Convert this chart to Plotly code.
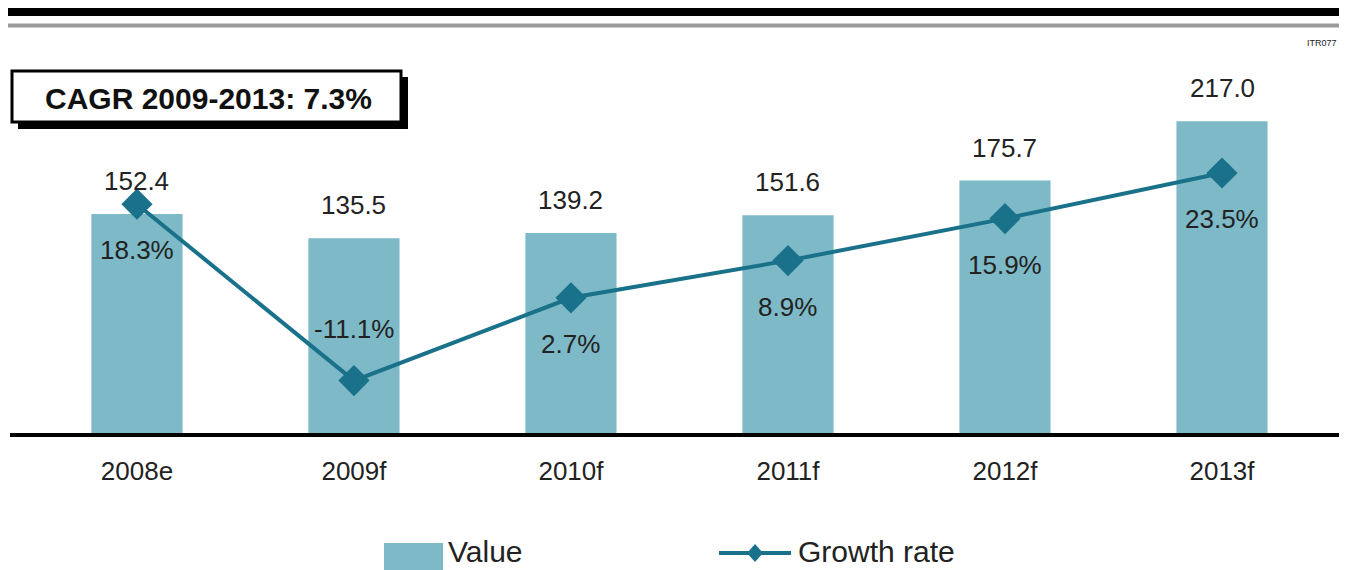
import plotly.graph_objects as go

# the page adds an 8px body margin, so the figure is shrunk by that much
OFF = 8
W, H = 1347 - OFF, 570 - OFF

categories = ["2008e", "2009f", "2010f", "2011f", "2012f", "2013f"]
values = [152.4, 135.5, 139.2, 151.6, 175.7, 217.0]
growth = [18.3, -11.1, 2.7, 8.9, 15.9, 23.5]

bar_color = "#7db9c6"
line_color = "#19718a"
text_color = "#222222"
font_family = "Liberation Sans, Arial, sans-serif"


# window pixel -> paper helpers (margins are zero, so paper == whole figure)
def X(px):
    return (px - OFF) / W


def Y(py):
    return 1 - (py - OFF) / H


fig = go.Figure()

fig.add_trace(go.Bar(
    x=categories, y=values, name="Value",
    marker=dict(color=bar_color, line=dict(width=0)),
    width=0.42, showlegend=False,
))

fig.add_trace(go.Scatter(
    x=categories, y=growth, name="Growth rate", yaxis="y2",
    mode="lines+markers",
    line=dict(color=line_color, width=4),
    marker=dict(symbol="diamond", size=24, color=line_color),
    showlegend=False,
))

annotations = []
# value labels above bars
for c, v in zip(categories, values):
    annotations.append(dict(
        x=c, y=v, xref="x", yref="y", text=f"{v:.1f}", showarrow=False,
        yshift=33, font=dict(size=26, color=text_color, family=font_family),
    ))
# growth labels below / above markers
for c, g in zip(categories, growth):
    annotations.append(dict(
        x=c, y=g, xref="x", yref="y2", text=f"{g:.1f}%", showarrow=False,
        yshift=52 if g < 0 else -46,
        font=dict(size=26, color=text_color, family=font_family),
    ))

# CAGR box text
annotations.append(dict(
    x=X(208), y=Y(98), xref="paper", yref="paper", showarrow=False,
    xanchor="center", yanchor="middle",
    text="<b>CAGR 2009-2013: 7.3%</b>",
    font=dict(size=30, color="#111111", family=font_family),
))
# small code in the corner
annotations.append(dict(
    x=X(1322), y=Y(43), xref="paper", yref="paper", showarrow=False,
    xanchor="center", yanchor="middle",
    text="ITR077", font=dict(size=9, color="#222222", family=font_family),
))
# manual legend
annotations.append(dict(
    x=X(446), y=Y(551), xref="paper", yref="paper", showarrow=False,
    xanchor="left", yanchor="middle", text="Value",
    font=dict(size=30, color=text_color, family=font_family),
))
annotations.append(dict(
    x=X(796), y=Y(551), xref="paper", yref="paper", showarrow=False,
    xanchor="left", yanchor="middle", text="Growth rate",
    font=dict(size=30, color=text_color, family=font_family),
))

shapes = [
    # header rules
    dict(type="rect", xref="paper", yref="paper", x0=0, x1=1,
         y0=Y(16), y1=Y(7), fillcolor="black", line_width=0),
    dict(type="rect", xref="paper", yref="paper", x0=0, x1=1,
         y0=Y(27.5), y1=Y(23.5), fillcolor="#9a9a9a", line_width=0),
    # CAGR box with shadow
    dict(type="rect", xref="paper", yref="paper", x0=X(18), x1=X(408),
         y0=Y(129), y1=Y(77), fillcolor="black", line_width=0),
    dict(type="rect", xref="paper", yref="paper", x0=X(12), x1=X(401),
         y0=Y(122), y1=Y(71), fillcolor="white",
         line=dict(color="black", width=3)),
    # legend swatches
    dict(type="rect", xref="paper", yref="paper", x0=X(384), x1=X(443),
         y0=Y(572), y1=Y(543), fillcolor=bar_color, line_width=0),
    dict(type="line", xref="paper", yref="paper", x0=X(719), x1=X(791),
         y0=Y(553), y1=Y(553), line=dict(color=line_color, width=4)),
    dict(type="path", xref="paper", yref="paper",
         path=f"M {X(747)},{Y(553)} L {X(755)},{Y(544)} L {X(763)},{Y(553)} "
              f"L {X(755)},{Y(562)} Z",
         fillcolor=line_color, line_width=0),
]

y_top_px, y_bot_px = 40, 433
plot_h = y_bot_px - y_top_px
val_scale = 1.437   # px per value unit
gr_scale = 6.0      # px per growth percent
gr_zero_px = 314

fig.update_layout(
    width=W, height=H,
    margin=dict(l=0, r=0, t=0, b=0),
    paper_bgcolor="white", plot_bgcolor="white",
    font=dict(family=font_family, color=text_color),
    xaxis=dict(
        domain=[X(10), 1],
        range=[-0.585, 5.576],
        showline=True, linecolor="black", linewidth=4,
        showgrid=False, zeroline=False,
        ticks="outside", ticklen=12, tickcolor="rgba(0,0,0,0)",
        tickfont=dict(size=26, color=text_color, family=font_family),
    ),
    yaxis=dict(
        domain=[Y(y_bot_px), Y(y_top_px)],
        range=[0, plot_h / val_scale],
        visible=False, showgrid=False, zeroline=False,
    ),
    yaxis2=dict(
        overlaying="y",
        range=[-(y_bot_px - gr_zero_px) / gr_scale, (gr_zero_px - y_top_px) / gr_scale],
        visible=False, showgrid=False, zeroline=False,
    ),
    annotations=annotations,
    shapes=shapes,
    showlegend=False,
)

fig.write_html("out.html")
